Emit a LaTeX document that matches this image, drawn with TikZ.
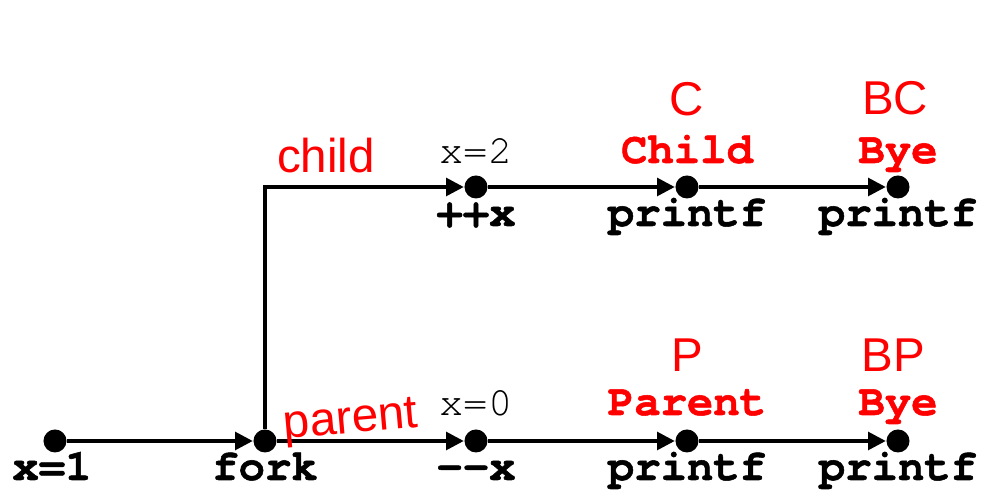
\documentclass[tikz,border=0pt]{standalone}
\usepackage{fontspec}
\setmonofont[BoldFeatures={FakeBold=1.2}]{TeX Gyre Cursor}
\newfontfamily\handfont{Liberation Sans}
\usetikzlibrary{arrows.meta,positioning}

\begin{document}
\begin{tikzpicture}[x=0.01cm,y=-0.01cm,
  dot/.style={circle,fill=black,inner sep=0pt,minimum size=0.23cm},
  flow/.style={line width=1pt,-{Triangle[length=5pt,width=5pt]}},
  code/.style={font=\fontsize{12.5}{14}\selectfont\ttfamily\bfseries,anchor=base,inner sep=0pt},
  val/.style={font=\fontsize{11.5}{13}\selectfont\ttfamily,anchor=base,inner sep=0pt},
  outtext/.style={code,text=red},
  hand/.style={font=\fontsize{13.5}{15}\selectfont\handfont,text=red,anchor=base,inner sep=0pt}]
  \useasboundingbox (0,0) rectangle (984,498);
  % parent line
  \node[dot] (x1) at (55,441) {};
  \node[dot] (fork) at (265,441) {};
  \node[dot] (dec) at (476,441) {};
  \node[dot] (pp) at (687,441) {};
  \node[dot] (pb) at (898,441) {};
  % child line
  \node[dot] (inc) at (476,187) {};
  \node[dot] (cp) at (687,187) {};
  \node[dot] (cb) at (898,187) {};
  \draw[flow] (x1) -- (fork);
  \draw[flow] (fork) -- (dec);
  \draw[flow] (dec) -- (pp);
  \draw[flow] (pp) -- (pb);
  \draw[flow] (fork) |- (inc);
  \draw[flow] (inc) -- (cp);
  \draw[flow] (cp) -- (cb);
  % statements
  \node[code] (lx1) at (52,480) {x=1};
  \node[code] (lfork) at (265,480) {fork};
  \node[code] (ldec) at (476,480) {-{}-x};
  \node[code] (lpp) at (687,480) {printf};
  \node[code] (lpb) at (898,480) {printf};
  \node[code] (linc) at (476,226) {++x};
  \node[code] (lcp) at (687,226) {printf};
  \node[code] (lcb) at (898,226) {printf};
  \node[val] (v2) at (476,164) {x=2};
  \node[val] (v0) at (476,416) {x=0};
  % output
  \node[outtext] (oc) at (687,163) {Child};
  \node[outtext] (ocb) at (898,163) {Bye};
  \node[outtext] (op) at (687,415) {Parent};
  \node[outtext] (opb) at (898,415) {Bye};
  \node[hand] (hc) at (687,116) {C};
  \node[hand] (hbc) at (895,115) {BC};
  \node[hand] (hp) at (687,372) {P};
  \node[hand] (hbp) at (893,372) {BP};
  \node[hand] (hchild) at (326,173) {child};
  \node[hand,rotate=5] (hparent) at (352,433) {parent};
\end{tikzpicture}
\end{document}
